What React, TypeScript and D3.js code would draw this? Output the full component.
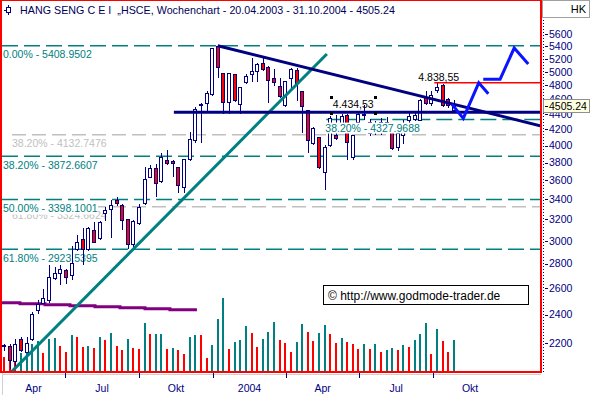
import React from "react";
import * as d3 from "d3";

// ---------- data ----------
const START = new Date(2003, 3, 16); // mid-week of first weekly bar
const opens = [2190, 2183, 2086, 2229, 2143, 2229, 2433, 2485, 2508, 2681, 2722, 2746, 2705, 2923, 3019, 2923, 3099, 3022, 3262, 3302, 3393, 3342, 3201, 2970, 3165, 3359, 3641, 3734, 3594, 3829, 3818, 3746, 3532, 3837, 4068, 4516, 4550, 4680, 5405, 4977, 4568, 4966, 4536, 4852, 4962, 5017, 5140, 5075, 4911, 4790, 4522, 4911, 5027, 4718, 4454, 4027, 4100, 3696, 4007, 4130, 4244, 4387, 3867, 4300, 4393, 4155, 4257, 4168, 4296, 4235, 3980, 4130, 4322, 4331, 4322, 4630, 4545, 4732, 4804, 4601, 4454];
const highs = [2198, 2196, 2229, 2242, 2242, 2419, 2508, 2593, 2788, 2771, 2788, 2755, 2952, 3052, 3118, 3130, 3178, 3184, 3322, 3393, 3428, 3352, 3204, 3194, 3352, 3753, 3772, 3780, 3914, 3947, 3829, 3753, 3837, 4174, 4498, 4550, 4713, 5368, 5408.95, 4987, 4987, 4966, 4771, 4966, 5208, 5140, 5233, 5086, 5037, 4902, 4863, 5052, 5052, 4718, 4454, 4235, 4104, 4007, 4374, 4387, 4400, 4396, 4130, 4409, 4522, 4335, 4309, 4348, 4361, 4257, 4193, 4322, 4413, 4431, 4601, 4713, 4713, 4838.55, 4818, 4625, 4591];
const lows = [2160, 2041, 2054, 2150, 2143, 2222, 2411, 2485, 2493, 2672, 2632, 2640, 2672, 2917, 2796, 2917, 2989, 3016, 3194, 3034, 3342, 3108, 2932, 2952, 3156, 3352, 3638, 3435, 3586, 3783, 3649, 3479, 3479, 3829, 4047, 4047, 4454, 4661, 4926, 4418, 4418, 4577, 4418, 4837, 4867, 4867, 5027, 4568, 4804, 4637, 4508, 4780, 4591, 4165, 3926, 4016, 3734, 3504, 3995, 4077, 4180, 3837, 3837, 4257, 4331, 4130, 4143, 4143, 4193, 3956, 3947, 4035, 4270, 4322, 4322, 4536, 4522, 4704, 4508, 4498, 4430];
const closes = [2192, 2092, 2196, 2156, 2202, 2404, 2477, 2523, 2689, 2722, 2755, 2689, 2805, 2991, 2926, 3121, 2991, 3178, 3292, 3342, 3359, 3194, 2970, 3184, 3322, 3613, 3734, 3569, 3860, 3791, 3791, 3550, 3837, 4077, 4463, 4530, 4690, 5368, 5075, 4568, 4977, 4591, 4771, 4941, 5012, 5115, 5037, 4877, 4843, 4651, 4863, 5037, 4829, 4508, 4068, 4222, 3746, 3986, 4344, 4089, 4374, 4047, 4130, 4396, 4405, 4296, 4180, 4296, 4231, 3968, 4151, 4257, 4374, 4387, 4591, 4545, 4661, 4775, 4522, 4522, 4505.24];
const volumes = [15.3, 17, 10, 19.3, 19.3, 28, 30.7, 19.3, 33, 34.3, 26, 20.3, 37, 35.3, 25.3, 26, 24, 35.3, 32, 39.3, 26, 22, 33, 24, 23, 49.3, 38, 38, 38, 23, 24, 22, 18, 35.3, 37, 37, 14.3, 27, 53, 74, 23, 30, 32, 46, 39.3, 25.3, 33, 40, 50, 32, 29.3, 20.3, 30.3, 48, 40.3, 31, 39.3, 47, 38, 29.3, 34.3, 30.3, 28, 23, 28, 23, 28, 20.3, 22, 24, 22, 27, 25.3, 32, 38, 49.3, 18, 43, 31, 20.3, 32];
const volumeUp = [0, 0, 0, 1, 1, 1, 1, 0, 1, 1, 0, 0, 1, 0, 0, 1, 0, 1, 0, 1, 0, 0, 1, 0, 0, 1, 0, 1, 1, 0, 1, 0, 0, 1, 1, 0, 0, 1, 1, 1, 0, 1, 1, 1, 0, 0, 1, 1, 1, 0, 0, 0, 1, 1, 0, 0, 1, 1, 0, 0, 1, 0, 0, 0, 1, 0, 1, 0, 1, 1, 0, 1, 0, 1, 1, 1, 0, 1, 0, 0, 1];

const yTicks = [5600, 5400, 5200, 5000, 4800, 4600, 4400, 4200, 4000, 3800, 3600, 3400, 3200, 3000, 2800, 2600, 2400, 2200];
const quarterNames = ["Apr", "Jul", "Okt", "2004", "Apr", "Jul", "Okt"];
const lastPrice = 4505.24;

const fibTealPct = [0, 38.2, 50, 61.8];
const fibTealVal = [5408.9502, 3872.6607, 3398.1001, 2923.5395];
const fibGreyPct = [38.2, 61.8];
const fibGreyVal = [4132.7476, 3324.6624];
const fibShortPct = 38.2;
const fibShortVal = 4327.9688;
const fibShortWeek = 57.3;

// trend lines: [week index, price]
const uptrend = [[1.1, 2011], [57.4, 5277]];
const downtrend = [[38, 5408.95], [95.5, 4244]];
const supportLine = [[30.2, 4425], [97, 4425]];
const resistLine = [[76.5, 4838.55], [97, 4838.55]];
const purpleWeeks = [-0.4, 2.84, 7.29, 11.73, 16.18, 20.62, 25.07, 29.5, 34.3];
const purpleValues = [2488, 2480, 2473, 2465, 2458, 2450, 2443, 2435, 2435];
const projection1 = [[79.6, 4536], [81.65, 4344], [84.4, 4836], [86.1, 4680]];
const projection2 = [[85.2, 4890], [88.2, 4890], [90.7, 5372], [93.2, 5119]];
const markerWeeks = [58.1, 66.0];
const markerPrices = [4637, 4418];
const markerValue = 4434.53;

const title = "HANG SENG C E I  \u201EHSCE, Wochenchart - 20.04.2003 - 31.10.2004 - 4505.24";

// ---------- styles ----------
const FONT = "'Liberation Sans', Arial, sans-serif";
const NAVY = "#000080";
const TEAL = "#008080";
const RED = "#ff0000";
const GREY = "#c0c0c0";

const de = d3.formatLocale({ decimal: ",", thousands: ".", grouping: [3], currency: ["", ""] });
const fmtDe = de.format(",.2f");

export default function App() {
  const W = 590, H = 395;
  const PL = 2, PR = 541, PT = 1, PB = 372;
  const wk = (i: number) => new Date(START.getTime() + i * 7 * 86400000);
  const x = d3.scaleTime().domain([START, wk(80)]).range([4, 454]);
  const y = d3.scaleLog().domain([2018, 6212]).range([372, 0]);
  const vy = d3.scaleLinear().domain([0, 100]).range([372, 272]);
  const xi = (i: number) => x(wk(i));

  const lineGen = d3.line<number[]>().x((d) => xi(d[0])).y((d) => y(d[1]));
  const stepGen = d3.line<number>().x((_, k) => xi(purpleWeeks[k])).y((v) => y(v)).curve(d3.curveStepAfter);

  const qStarts = d3.timeMonth.every(3)!.range(new Date(2003, 3, 1), new Date(2005, 0, 2));
  const qEnds = qStarts.map((q) => d3.timeMonth.offset(q, 3));

  const label = (pct: number, v: number) => `${pct.toFixed(2)}% - ${v.toFixed(4)}`;

  return (
    <div style={{ position: "fixed", left: 0, top: 0 }}>
      <svg width={W} height={H} style={{ display: "block", fontFamily: FONT }}>
        <defs>
          <clipPath id="plotclip">
            <rect x={PL} y={PT} width={PR - PL} height={PB - PT} />
          </clipPath>
        </defs>
        <rect x={0} y={0} width={W} height={H} fill="#fff" />

        <g clipPath="url(#plotclip)">
          {/* grey fib lines */}
          {fibGreyVal.map((v, k) => (
            <line key={"gl" + k} x1={12} x2={PR} y1={y(v)} y2={y(v)} stroke={GREY} strokeWidth={1.5} strokeDasharray="14,6" />
          ))}
          {/* teal fib lines */}
          {fibTealVal.map((v, k) => (
            <line key={"tl" + k} x1={PL} x2={PR} y1={y(v)} y2={y(v)} stroke={TEAL} strokeWidth={1.5} strokeDasharray="16,6" />
          ))}
          <line x1={xi(fibShortWeek)} x2={PR} y1={y(fibShortVal)} y2={y(fibShortVal)} stroke={TEAL} strokeWidth={1.5} strokeDasharray="16,6" />

          {/* grey labels */}
          {fibGreyVal.map((v, k) => (
            <text key={"gt" + k} x={12} y={y(v) + 12.3} fontSize={10.5} fill={GREY}>{label(fibGreyPct[k], v)}</text>
          ))}
          {/* teal labels with white background */}
          {fibTealVal.map((v, k) => (
            <g key={"tt" + k}>
              <rect x={PL} y={y(v) + 2} width={96} height={13} fill="#fff" />
              <text x={3} y={y(v) + 12.3} fontSize={10.5} fill={TEAL}>{label(fibTealPct[k], v)}</text>
            </g>
          ))}

          {/* volume */}
          {volumes.map((v, i) => {
            const cx = Math.round(xi(i));
            const top = Math.round(vy(v));
            return <rect key={"v" + i} x={cx - 1} y={top} width={2} height={PB - top} fill={volumeUp[i] ? TEAL : RED} />;
          })}

          {/* purple average */}
          <path d={stepGen(purpleValues) || ""} fill="none" stroke="#800080" strokeWidth={3} />

          {/* candles */}
          {closes.map((c, i) => {
            const o = opens[i];
            const cx = Math.round(xi(i));
            const yt = Math.round(y(Math.max(o, c)));
            const yb = Math.round(y(Math.min(o, c)));
            const up = c >= o;
            return (
              <g key={"c" + i}>
                <line x1={cx + 0.5} x2={cx + 0.5} y1={Math.round(y(highs[i]))} y2={Math.round(y(lows[i])) + 1} stroke={NAVY} strokeWidth={1} />
                <rect x={cx - 1.5} y={yt + 0.5} width={3} height={Math.max(1, yb - yt)} fill={up ? "#fff" : RED} stroke={NAVY} strokeWidth={1} />
              </g>
            );
          })}

          {/* short fib label drawn over candles, on white */}
          <rect x={xi(fibShortWeek) - 1} y={y(fibShortVal) + 3} width={95} height={11} fill="#fff" />
          <text x={xi(fibShortWeek) - 1} y={y(fibShortVal) + 12.3} fontSize={10.5} fill={TEAL}>{label(fibShortPct, fibShortVal)}</text>

          {/* trend lines */}
          <path d={lineGen(uptrend) || ""} stroke={TEAL} strokeWidth={3} fill="none" />
          <path d={lineGen(supportLine) || ""} stroke={NAVY} strokeWidth={3} fill="none" />
          <path d={lineGen(downtrend) || ""} stroke={NAVY} strokeWidth={3} fill="none" />
          <path d={lineGen(resistLine) || ""} stroke={RED} strokeWidth={1.5} fill="none" />

          {/* annotations */}
          <text x={xi(resistLine[0][0]) - 16} y={y(resistLine[0][1]) - 2} fontSize={10.5} fill="#000">{fmtDe(resistLine[0][1])}</text>
          <text x={xi(markerWeeks[0]) + 2} y={y(markerPrices[1]) - 4.4} fontSize={10.5} fill="#000">{fmtDe(markerValue)}</text>
          {markerWeeks.map((w) =>
            markerPrices.map((p, k) => (
              <rect key={"h" + w + "_" + k} x={Math.round(xi(w)) - 1} y={Math.round(y(p)) - 1} width={3} height={3} fill="#000" />
            ))
          )}

          {/* projection */}
          <path d={lineGen(projection1) || ""} stroke="#0a14ff" strokeWidth={3} fill="none" strokeLinejoin="miter" />
          <path d={lineGen(projection2) || ""} stroke="#0a14ff" strokeWidth={3} fill="none" strokeLinejoin="miter" />

          {/* copyright */}
          <rect x={323.5} y={285.5} width={205} height={19} fill="#fff" stroke="#000" strokeWidth={1} />
          <text x={328} y={299.5} fontSize={12} fill="#000">© http://www.godmode-trader.de</text>
        </g>

        {/* border */}
        <line x1={1} x2={1} y1={0} y2={373} stroke={RED} strokeWidth={2} />
        <line x1={0} x2={542} y1={0.5} y2={0.5} stroke={RED} strokeWidth={1} />
        <line x1={541} x2={541} y1={0} y2={373} stroke={RED} strokeWidth={2} />
        <line x1={0} x2={542} y1={372} y2={372} stroke={RED} strokeWidth={2} />
        <line x1={2} x2={541} y1={374.5} y2={374.5} stroke="#d0d0d0" strokeWidth={1} />
        <line x1={2.5} x2={2.5} y1={373} y2={395} stroke="#d0d0d0" strokeWidth={1} />

        {/* title */}
        <g stroke={NAVY} strokeWidth={1} fill="none">
          <line x1={8.5} x2={8.5} y1={5} y2={15} />
          <line x1={4} x2={8} y1={10.5} y2={10.5} />
          <rect x={6.5} y={7.5} width={4} height={5} fill="#fff" />
        </g>
        <text x={20} y={14} fontSize={10.7} fill="#00005a" textLength={375} lengthAdjust="spacing" style={{ whiteSpace: "pre" }}>{title}</text>

        {/* HK box */}
        <rect x={542.5} y={0.5} width={47} height={17} fill="#fff" stroke="#a0a0a0" strokeWidth={1} />
        <text x={586} y={13} fontSize={11} fill="#000" textAnchor="end">HK</text>

        {/* right axis */}
        <line x1={543.5} x2={543.5} y1={20} y2={372} stroke={NAVY} strokeWidth={1} strokeDasharray="1,2" />
        {yTicks.map((t) => (
          <g key={"yt" + t}>
            <line x1={545} x2={548} y1={Math.round(y(t)) + 0.5} y2={Math.round(y(t)) + 0.5} stroke={NAVY} strokeWidth={1} />
            <text x={549} y={y(t) + 3.8} fontSize={10.5} fill={NAVY}>{t}</text>
          </g>
        ))}
        <rect x={543.5} y={Math.round(y(lastPrice)) - 6.5} width={46} height={13} fill="#ffffe1" stroke="#909090" strokeWidth={1} />
        <line x1={545} x2={548} y1={Math.round(y(lastPrice)) + 0.5} y2={Math.round(y(lastPrice)) + 0.5} stroke="#000" strokeWidth={1} />
        <text x={549} y={y(lastPrice) + 4} fontSize={10.5} fill="#000">{lastPrice.toFixed(2)}</text>

        {/* bottom axis */}
        {qStarts.map((q, k) => {
          const xs = x(q);
          const lo = Math.max(xs, PL);
          const hi = Math.min(x(qEnds[k]), PR);
          return (
            <g key={"q" + k}>
              {xs > PL + 5 && xs < 456 && (
                <line x1={Math.round(xs) + 0.5} x2={Math.round(xs) + 0.5} y1={373} y2={378} stroke={NAVY} strokeWidth={1} />
              )}
              <text x={(lo + hi) / 2} y={392} fontSize={10.5} fill={NAVY} textAnchor="middle">{quarterNames[k]}</text>
            </g>
          );
        })}
      </svg>
    </div>
  );
}
